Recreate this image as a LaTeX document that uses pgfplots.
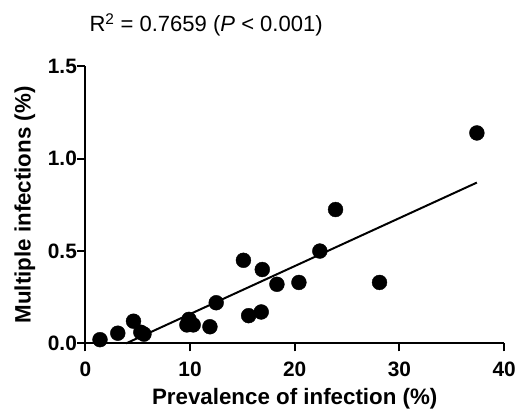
\documentclass[border=0pt]{standalone}
\usepackage{pgfplots}
\pgfplotsset{compat=1.18}
\usepackage{fontspec}
\setmainfont{Liberation Sans}

\begin{document}
\begin{tikzpicture}
\begin{axis}[
    name=ax,
    scale only axis,
    width=422pt, height=279pt,
    xmin=0, xmax=40, ymin=0, ymax=1.5,
    axis lines*=left,
    axis line style={line width=2pt},
    xtick={0,10,20,30,40},
    ytick={0,0.5,1.0,1.5},
    tick style={line width=2pt, black},
    tick align=outside,
    major tick length=8pt,
    /pgf/number format/assume math mode=true,
    yticklabel style={/pgf/number format/fixed, /pgf/number format/fixed zerofill, /pgf/number format/precision=1, xshift=3pt},
    xticklabel style={yshift=-7pt},
    tick label style={font=\fontsize{21}{24}\selectfont\bfseries},
    xlabel={Prevalence of infection (\%)},
    ylabel={Multiple infections (\%)},
    xlabel style={font=\fontsize{22.5}{26}\selectfont\bfseries, at={(axis description cs:0.5,-0.222)}, anchor=base},
    ylabel style={font=\fontsize{22.5}{26}\selectfont\bfseries, at={(axis description cs:-0.1445,0.5)}, anchor=center},
    clip=false,
]
\addplot[black, line width=2pt] coordinates {(3.9,0) (37.4,0.871)};
\addplot[only marks, mark=*, mark size=7.5pt, black] coordinates {
    (1.4,0.02) (3.1,0.055) (4.6,0.12) (5.3,0.06) (5.6,0.05)
    (9.9,0.13) (9.7,0.10) (10.3,0.10) (11.9,0.09) (12.5,0.22)
    (15.1,0.45) (15.6,0.15) (16.8,0.17) (16.9,0.40) (18.3,0.32)
    (20.4,0.33) (22.4,0.50) (23.9,0.725) (28.1,0.33) (37.4,1.14)
};
\node[anchor=base west, inner sep=0pt, font=\fontsize{22.2}{25}\selectfont] at (axis description cs:0.0095,1.1254)
    {R\textsuperscript{2} = 0.7659 (\textit{P} < 0.001)};
\end{axis}
\path (ax.south west) ++(-86pt,-69pt) rectangle ++(519pt,415pt);
\end{tikzpicture}
\end{document}
